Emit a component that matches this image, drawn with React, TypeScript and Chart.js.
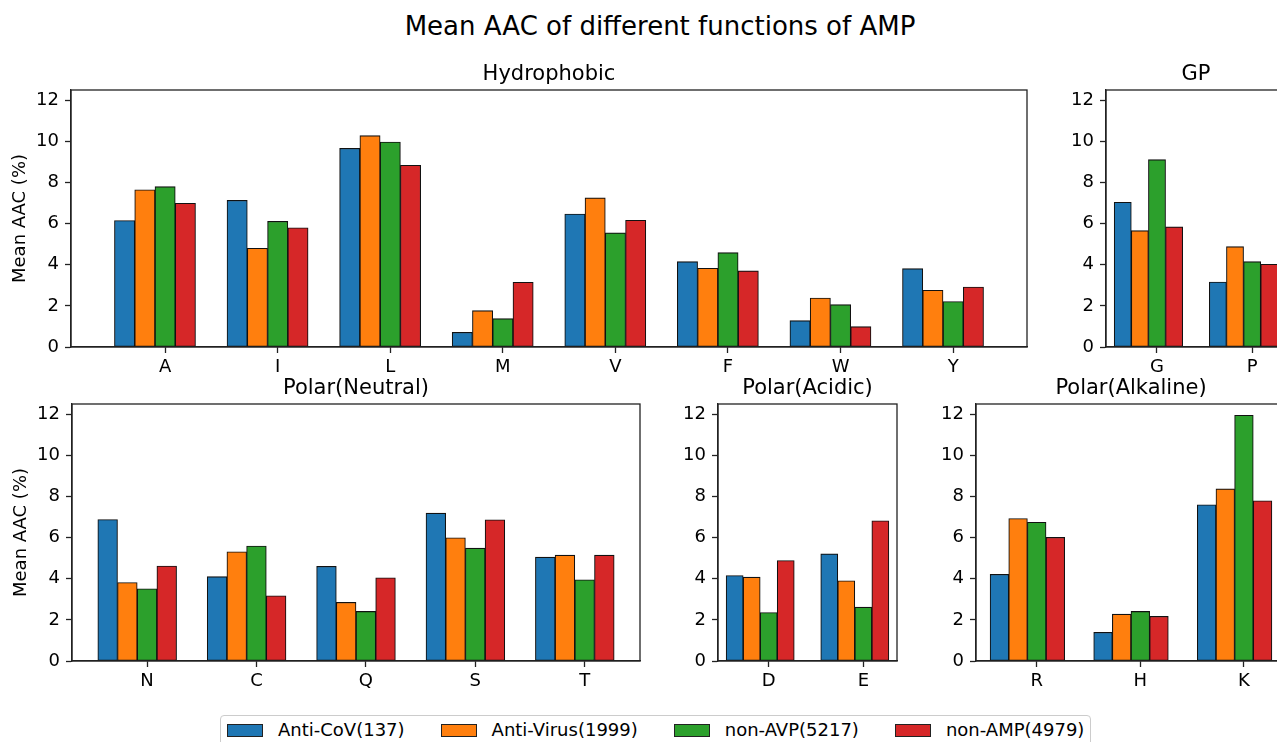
import React, { useEffect, useRef } from 'react';
import { Chart, registerables } from 'chart.js';

Chart.register(...registerables);

// ---- data ----
const aminoAcids = ['A', 'I', 'L', 'M', 'V', 'F', 'W', 'Y', 'G', 'P', 'N', 'C', 'Q', 'S', 'T', 'D', 'E', 'R', 'H', 'K'];
const antiCoV = [6.15, 7.13, 9.66, 0.71, 6.47, 4.15, 1.28, 3.81, 7.04, 3.16, 6.88, 4.10, 4.60, 7.19, 5.05, 4.16, 5.21, 4.21, 1.39, 7.60];
const antiVirus = [7.65, 4.80, 10.28, 1.77, 7.25, 3.83, 2.38, 2.76, 5.66, 4.88, 3.82, 5.31, 2.85, 5.99, 5.15, 4.08, 3.90, 6.93, 2.28, 8.37];
const nonAVP = [7.80, 6.11, 9.97, 1.38, 5.55, 4.59, 2.06, 2.21, 9.11, 4.15, 3.51, 5.59, 2.41, 5.49, 3.95, 2.36, 2.62, 6.75, 2.41, 11.95];
const nonAMP = [6.99, 5.80, 8.84, 3.15, 6.16, 3.70, 0.99, 2.92, 5.84, 4.02, 4.62, 3.17, 4.05, 6.87, 5.15, 4.89, 6.82, 6.01, 2.17, 7.79];

const seriesNames = ['Anti-CoV(137)', 'Anti-Virus(1999)', 'non-AVP(5217)', 'non-AMP(4979)'];
const seriesColors = ['#1f77b4', '#ff7f0e', '#2ca02c', '#d62728'];
const seriesValues = [antiCoV, antiVirus, nonAVP, nonAMP];

const hydrophobic = ['A', 'I', 'L', 'M', 'V', 'F', 'W', 'Y'];
const gp = ['G', 'P'];
const polarNeutral = ['N', 'C', 'Q', 'S', 'T'];
const polarAcidic = ['D', 'E'];
const polarAlkaline = ['R', 'H', 'K'];

const yTicks = [0, 2, 4, 6, 8, 10, 12];
const yMax = 12.5;
const barWidth = 0.18;

const mainTitle = 'Mean AAC of different functions of AMP';
const yAxisLabel = 'Mean AAC (%)';

// ---- layout ----
const FONT = '"DejaVu Sans", sans-serif';
const padL = 72;
const padT = 50;
const padR = 12;
const padB = 45;

type PanelCfg = {
  title: string;
  cats: string[];
  left: number;
  top: number;
  right: number;
  bottom: number;
  yLabel: boolean;
};

const panels: PanelCfg[] = [
  { title: 'Hydrophobic', cats: hydrophobic, left: 71, top: 90, right: 1027, bottom: 347, yLabel: true },
  { title: 'GP', cats: gp, left: 1106, top: 90, right: 1286, bottom: 347, yLabel: false },
  { title: 'Polar(Neutral)', cats: polarNeutral, left: 72, top: 404, right: 640, bottom: 661, yLabel: true },
  { title: 'Polar(Acidic)', cats: polarAcidic, left: 718, top: 404, right: 897, bottom: 661, yLabel: false },
  { title: 'Polar(Alkaline)', cats: polarAlkaline, left: 976, top: 404, right: 1286, bottom: 661, yLabel: false },
];

function Panel({ cfg }: { cfg: PanelCfg }) {
  const ref = useRef<HTMLCanvasElement>(null);
  const W = cfg.right - cfg.left + padL + padR;
  const H = cfg.bottom - cfg.top + padT + padB;

  useEffect(() => {
    if (!ref.current) return;
    const n = cfg.cats.length;
    const span = n - 1 + 4 * barWidth;
    const margin = 0.05 * span;
    const xmin = -2.5 * barWidth - margin;
    const xmax = n - 1 + 1.5 * barWidth + margin;

    const datasets = seriesNames.map((name, k) => ({
      label: name,
      data: cfg.cats.map((aa, i) => ({
        x: i + (k - 2) * barWidth,
        y: seriesValues[k][aminoAcids.indexOf(aa)],
      })),
      backgroundColor: seriesColors[k],
      borderColor: '#111',
      borderWidth: 1.1,
      borderSkipped: false as const,
      grouped: false,
      barPercentage: 1,
      categoryPercentage: 1,
    }));

    const framePlugin = {
      id: 'frame',
      afterDraw(chart: any) {
        const { ctx, chartArea: a } = chart;
        ctx.save();
        ctx.strokeStyle = '#222';
        ctx.lineWidth = 1.3;
        ctx.strokeRect(a.left, a.top, a.right - a.left, a.bottom - a.top);
        ctx.fillStyle = '#000';
        ctx.font = `21px ${FONT}`;
        ctx.textAlign = 'center';
        ctx.textBaseline = 'alphabetic';
        ctx.fillText(cfg.title, (a.left + a.right) / 2, a.top - 10.5);
        ctx.restore();
      },
    };

    const chart = new Chart(ref.current, {
      type: 'bar',
      data: { datasets: datasets as any },
      options: {
        responsive: false,
        maintainAspectRatio: false,
        animation: false,
        devicePixelRatio: 1,
        layout: { padding: { top: padT, right: padR, left: 0, bottom: 0 } },
        plugins: {
          legend: { display: false },
          tooltip: { enabled: false },
          title: { display: false },
        },
        scales: {
          x: {
            type: 'linear',
            min: xmin,
            max: xmax,
            offset: false,
            afterBuildTicks: (s: any) => {
              s.ticks = cfg.cats.map((_, i) => ({ value: i }));
            },
            afterFit: (s: any) => {
              s.height = padB;
            },
            ticks: {
              callback: (_v: any, i: number) => cfg.cats[i],
              autoSkip: false,
              maxRotation: 0,
              padding: 4,
              font: { family: FONT, size: 18 },
              color: '#000',
            },
            grid: {
              offset: false,
              drawOnChartArea: false,
              drawTicks: true,
              tickLength: 6,
              color: '#222',
              tickWidth: 1.3,
            },
            border: { display: true, color: '#222', width: 1.3 },
          },
          y: {
            type: 'linear',
            min: 0,
            max: yMax,
            afterBuildTicks: (s: any) => {
              s.ticks = yTicks.map((v) => ({ value: v }));
            },
            afterFit: (s: any) => {
              s.width = padL;
            },
            ticks: {
              padding: 6,
              font: { family: FONT, size: 18 },
              color: '#000',
            },
            grid: {
              offset: false,
              drawOnChartArea: false,
              drawTicks: true,
              tickLength: 6,
              color: '#222',
              tickWidth: 1.3,
            },
            border: { display: true, color: '#222', width: 1.3 },
            title: {
              display: cfg.yLabel,
              text: yAxisLabel,
              font: { family: FONT, size: 18 },
              color: '#000',
              padding: { top: 11, bottom: 0 },
            },
          },
        },
      } as any,
      plugins: [framePlugin],
    });
    return () => chart.destroy();
  }, []);

  return (
    <canvas
      ref={ref}
      width={W}
      height={H}
      style={{ position: 'absolute', left: cfg.left - padL, top: cfg.top - padT, width: W, height: H }}
    />
  );
}

function Legend() {
  return (
    <div
      style={{
        position: 'absolute',
        left: 220,
        top: 715,
        height: 60,
        boxSizing: 'border-box',
        border: '1px solid #cccccc',
        borderRadius: 4,
        padding: '6px 6px 0 6px',
        background: 'white',
      }}
    >
      <div style={{ display: 'flex', alignItems: 'center', height: 16 }}>
        {seriesNames.map((name, k) => (
          <div key={name} style={{ display: 'flex', alignItems: 'center', marginLeft: k === 0 ? 0 : 36 }}>
            <div
              style={{
                width: 36,
                height: 13,
                boxSizing: 'border-box',
                border: '1px solid #222',
                background: seriesColors[k],
                marginRight: 15,
              }}
            />
            <span style={{ fontFamily: FONT, fontSize: 18, lineHeight: '16px', color: '#000', whiteSpace: 'nowrap' }}>
              {name}
            </span>
          </div>
        ))}
      </div>
    </div>
  );
}

export default function App() {
  return (
    <div
      style={{
        position: 'fixed',
        left: 0,
        top: 0,
        width: 1277,
        height: 742,
        overflow: 'hidden',
        background: 'white',
        fontFamily: FONT,
      }}
    >
      <div
        style={{
          position: 'absolute',
          left: 0,
          width: 1320,
          top: 13,
          textAlign: 'center',
          fontSize: 26,
          lineHeight: '26px',
          color: '#000',
          whiteSpace: 'nowrap',
        }}
      >
        {mainTitle}
      </div>
      {panels.map((p) => (
        <Panel key={p.title} cfg={p} />
      ))}
      <Legend />
    </div>
  );
}
